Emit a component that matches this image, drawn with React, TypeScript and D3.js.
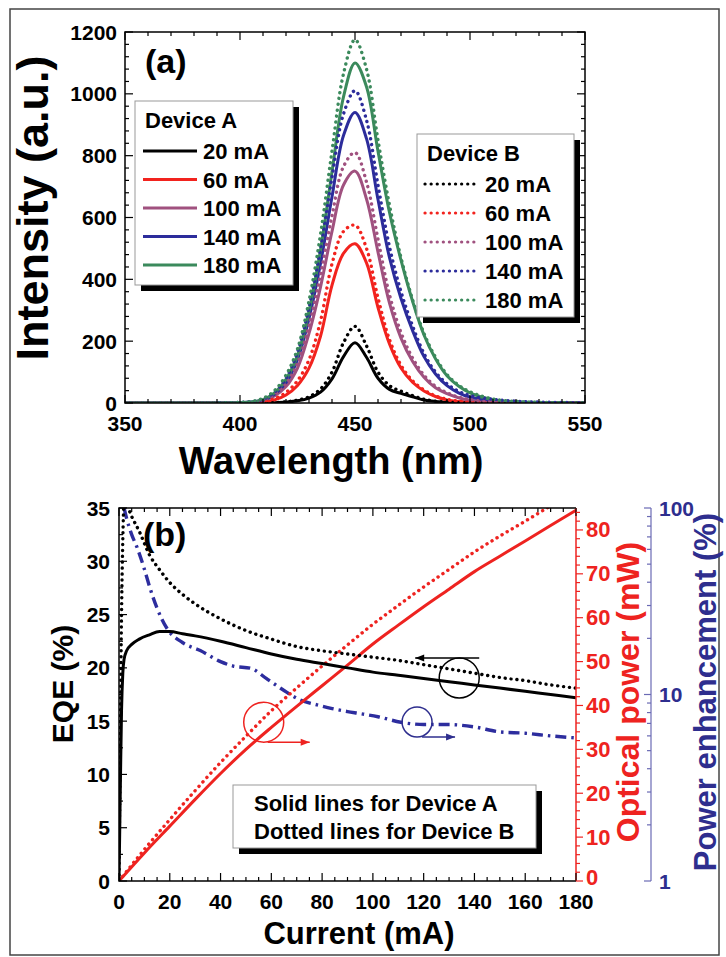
import React, { useEffect, useRef } from 'react';
import * as d3 from 'd3';

// ---- panel (a): emission spectra ----
const WAVELENGTH = [350, 380, 400, 405, 410, 415, 420, 425, 430, 435, 440, 445, 450, 455, 460, 465, 470, 475, 480, 485, 490, 495, 500, 510, 520, 530, 550];

const SPEC_A_20 = [0, 0, 0, 0, 0, 1, 3, 7, 16, 35, 78, 150, 195, 148, 80, 44, 31, 20, 10, 5, 2, 1, 0, 0, 0, 0, 0];
const SPEC_A_60 = [0, 0, 0, 1, 3, 10, 26, 57, 113, 216, 381, 484, 515, 453, 309, 191, 113, 67, 39, 21, 10, 5, 3, 1, 0, 0, 0];
const SPEC_A_100 = [0, 0, 0, 2, 8, 23, 53, 113, 225, 375, 555, 705, 750, 660, 488, 323, 210, 135, 83, 49, 30, 17, 9, 3, 1, 0, 0];
const SPEC_A_140 = [0, 0, 1, 3, 9, 28, 66, 141, 273, 451, 667, 865, 940, 855, 658, 470, 338, 235, 150, 94, 56, 33, 19, 8, 3, 1, 0];
const SPEC_A_180 = [0, 0, 1, 3, 11, 33, 77, 154, 297, 495, 748, 990, 1100, 1023, 814, 616, 462, 330, 220, 143, 88, 55, 33, 11, 4, 2, 0];

const SPEC_B_20 = [0, 0, 0, 0, 0, 1, 4, 9, 20, 45, 100, 195, 248, 185, 100, 56, 38, 24, 12, 6, 3, 1, 0, 0, 0, 0, 0];
const SPEC_B_60 = [0, 0, 0, 2, 5, 14, 34, 72, 140, 265, 450, 555, 575, 500, 340, 205, 122, 72, 42, 23, 12, 6, 3, 1, 0, 0, 0];
const SPEC_B_100 = [0, 0, 0, 3, 10, 28, 62, 128, 250, 415, 605, 765, 810, 715, 530, 350, 228, 146, 90, 54, 33, 19, 11, 4, 2, 0, 0];
const SPEC_B_140 = [0, 0, 2, 4, 12, 35, 80, 165, 310, 500, 730, 935, 1010, 915, 705, 505, 360, 250, 160, 100, 62, 38, 24, 12, 6, 3, 1];
const SPEC_B_180 = [0, 0, 2, 5, 15, 40, 90, 175, 330, 545, 815, 1065, 1175, 1080, 850, 640, 470, 335, 225, 148, 92, 58, 36, 13, 5, 2, 0];

const DRIVE_LABELS = ['20 mA', '60 mA', '100 mA', '140 mA', '180 mA'];
const DRIVE_COLORS = ['#000000', '#f2231e', '#a0517f', '#2c2c9b', '#3b8a5c'];
const SPECTRA_A = [SPEC_A_20, SPEC_A_60, SPEC_A_100, SPEC_A_140, SPEC_A_180];
const SPECTRA_B = [SPEC_B_20, SPEC_B_60, SPEC_B_100, SPEC_B_140, SPEC_B_180];

// ---- panel (b): EQE, optical power, power enhancement vs current ----
const CURRENT_EQE = [0, 0.3, 0.6, 1, 1.5, 2, 3, 5, 8, 12, 16, 20, 25, 30, 40, 50, 60, 70, 80, 90, 100, 110, 120, 130, 140, 150, 160, 170, 180];
const EQE_A = [0, 5, 10, 16, 19.5, 20.8, 21.6, 22.2, 22.7, 23.1, 23.4, 23.4, 23.2, 23.0, 22.5, 21.9, 21.3, 20.8, 20.4, 20.0, 19.6, 19.3, 19.0, 18.7, 18.4, 18.1, 17.8, 17.5, 17.2];
const EQE_B = [0, 8, 16, 25, 32, 35.5, 35.3, 34.2, 32.8, 30.6, 29.2, 28.0, 26.9, 26.0, 24.6, 23.5, 22.7, 22.0, 21.6, 21.3, 21.0, 20.7, 20.3, 19.9, 19.5, 19.1, 18.8, 18.4, 18.1];

const CURRENT_POWER = [0, 10, 20, 30, 40, 50, 60, 70, 80, 90, 100, 110, 120, 130, 140, 150, 160, 170, 180];
const POWER_A = [0, 6.4, 12.5, 18.6, 24.5, 30, 35, 39.8, 44.5, 49.2, 54, 58.3, 62.5, 66.5, 70.5, 74, 77.5, 81, 84.5];
const POWER_B = [0, 7.2, 14, 20.6, 27, 33, 38.8, 44, 49, 53.8, 58.5, 62.8, 67, 71, 75, 78.6, 82, 85.5, 89];

const CURRENT_ENH = [2, 3, 5, 7, 10, 12, 15, 19, 25, 32, 40, 45, 52, 58, 65, 71, 78, 84, 90, 95, 102, 111, 120, 130, 140, 150, 160, 170, 180];
const ENHANCEMENT = [100, 88, 72, 62, 47, 38, 29, 22.5, 19, 17.2, 15, 14.2, 13.8, 12.2, 10.5, 9.4, 8.8, 8.4, 8.1, 7.9, 7.6, 7.1, 6.9, 6.9, 6.7, 6.3, 6.2, 6.0, 5.85];

const FONT = "'Liberation Sans', Arial, Helvetica, sans-serif";
const RED = '#ee2320';
const BLUE = '#2e2e8e';
const BLUE_AXIS = '#6a6ab4';
const DOTS = '0.1 5.8';

type G = d3.Selection<SVGGElement, unknown, null, undefined>;

function tickLines(g: G, pos: number[], fixed: number, len: number, horiz: boolean, color = '#000') {
    pos.forEach((p) => {
        const l = g.append('line').attr('stroke', color).attr('stroke-width', 1.2);
        if (horiz) l.attr('x1', p).attr('x2', p).attr('y1', fixed).attr('y2', fixed + len);
        else l.attr('y1', p).attr('y2', p).attr('x1', fixed).attr('x2', fixed + len);
    });
}

function label(g: G, x: number, y: number, txt: string, size: number, anchor = 'middle', color = '#000') {
    return g
        .append('text')
        .attr('x', x)
        .attr('y', y)
        .attr('text-anchor', anchor)
        .attr('font-family', FONT)
        .attr('font-weight', 'bold')
        .attr('font-size', size)
        .attr('fill', color)
        .text(txt);
}

function arrowHead(g: G, x: number, y: number, dir: number, color: string) {
    g.append('path')
        .attr('d', `M${x},${y} L${x - dir * 9},${y - 3.5} L${x - dir * 9},${y + 3.5} Z`)
        .attr('fill', color);
}

function drawSpectra(root: G) {
    const g = root.append('g');
    const x = d3.scaleLinear().domain([350, 550]).range([125, 585]);
    const y = d3.scaleLinear().domain([0, 1200]).range([403, 32]);
    const [x0, x1] = x.range();
    const [y0, y1] = y.range();

    g.append('clipPath').attr('id', 'clipA').append('rect').attr('x', x0).attr('y', y1).attr('width', x1 - x0).attr('height', y0 - y1);

    const line = d3
        .line<number>()
        .x((d, i) => x(WAVELENGTH[i]))
        .y((d) => y(d))
        .curve(d3.curveCatmullRom.alpha(0.5));

    const curves = g.append('g').attr('clip-path', 'url(#clipA)');
    SPECTRA_A.forEach((s, i) => {
        curves.append('path').attr('d', line(s)).attr('fill', 'none').attr('stroke', DRIVE_COLORS[i]).attr('stroke-width', 3);
    });
    SPECTRA_B.forEach((s, i) => {
        curves
            .append('path')
            .attr('d', line(s))
            .attr('fill', 'none')
            .attr('stroke', DRIVE_COLORS[i])
            .attr('stroke-width', 3.4)
            .attr('stroke-linecap', 'round')
            .attr('stroke-dasharray', DOTS);
    });

    // frame + ticks
    g.append('rect').attr('x', x0).attr('y', y1).attr('width', x1 - x0).attr('height', y0 - y1).attr('fill', 'none').attr('stroke', '#000').attr('stroke-width', 1.5);
    const xMaj = d3.range(350, 551, 50);
    const xMin = d3.range(350, 551, 10).filter((v) => !xMaj.includes(v));
    tickLines(g, xMaj.map(x), y0, -8, true);
    tickLines(g, xMin.map(x), y0, -4, true);
    tickLines(g, xMaj.map(x), y1, 8, true);
    tickLines(g, xMin.map(x), y1, 4, true);
    const yMaj = d3.range(0, 1201, 200);
    const yMin = d3.range(0, 1201, 40).filter((v) => !yMaj.includes(v));
    tickLines(g, yMaj.map(y), x0, 8, false);
    tickLines(g, yMin.map(y), x0, 4, false);
    tickLines(g, yMaj.map(y), x1, -8, false);
    tickLines(g, yMin.map(y), x1, -4, false);

    xMaj.forEach((v) => label(g, x(v), 431, String(v), 21));
    yMaj.forEach((v) => label(g, 117, y(v) + 7.5, String(v), 21, 'end'));

    label(g, 331, 474, 'Wavelength (nm)', 38);
    label(g, 0, 0, 'Intensity (a.u.)', 45).attr('transform', 'translate(48,208) rotate(-90)');
    label(g, 145, 73, '(a)', 34, 'start');

    // legends
    const legend = (lx: number, ly: number, w: number, h: number, title: string, dotted: boolean, step: number) => {
        g.append('rect').attr('x', lx + 6).attr('y', ly + 6).attr('width', w).attr('height', h).attr('fill', '#000');
        g.append('rect').attr('x', lx).attr('y', ly).attr('width', w).attr('height', h).attr('fill', '#fff').attr('stroke', '#999').attr('stroke-width', 1);
        label(g, lx + 10, ly + 27, title, 22, 'start');
        DRIVE_LABELS.forEach((t, i) => {
            const yy = ly + 50 + i * step;
            const l = g
                .append('line')
                .attr('x1', lx + 8)
                .attr('x2', lx + 62)
                .attr('y1', yy)
                .attr('y2', yy)
                .attr('stroke', DRIVE_COLORS[i])
                .attr('stroke-width', 3);
            if (dotted) l.attr('stroke-dasharray', '0.1 6').attr('stroke-linecap', 'round').attr('stroke-width', 3.2);
            label(g, lx + 68, yy + 8, t, 22, 'start');
        });
    };
    legend(135, 101, 158, 184, 'Device A', false, 28.5);
    legend(417, 134, 157, 183, 'Device B', true, 29);
}

function drawCurrent(root: G) {
    const g = root.append('g');
    const x = d3.scaleLinear().domain([0, 180]).range([119, 576]);
    const yE = d3.scaleLinear().domain([0, 35]).range([881, 508]);
    const yP = d3.scaleLinear().domain([0, 85]).range([881, 508]);
    const yL = d3.scaleLog().domain([1, 100]).range([881, 508]);
    const [x0, x1] = x.range();
    const [y0, y1] = yE.range();

    g.append('clipPath').attr('id', 'clipB').append('rect').attr('x', x0).attr('y', y1).attr('width', x1 - x0).attr('height', y0 - y1);
    const curves = g.append('g').attr('clip-path', 'url(#clipB)');

    const mk = (xs: number[], sc: (v: number) => number) =>
        d3
            .line<number>()
            .x((d, i) => x(xs[i]))
            .y((d) => sc(d))
            .curve(d3.curveMonotoneX);

    curves.append('path').attr('d', mk(CURRENT_ENH, yL)(ENHANCEMENT)).attr('fill', 'none').attr('stroke', '#2d2d9e').attr('stroke-width', 3.4).attr('stroke-dasharray', '11 5 2.5 5');
    curves.append('path').attr('d', mk(CURRENT_POWER, yP)(POWER_A)).attr('fill', 'none').attr('stroke', RED).attr('stroke-width', 3);
    curves.append('path').attr('d', mk(CURRENT_POWER, yP)(POWER_B)).attr('fill', 'none').attr('stroke', RED).attr('stroke-width', 3.4).attr('stroke-linecap', 'round').attr('stroke-dasharray', DOTS);
    curves.append('path').attr('d', mk(CURRENT_EQE, yE)(EQE_A)).attr('fill', 'none').attr('stroke', '#000').attr('stroke-width', 3);
    curves.append('path').attr('d', mk(CURRENT_EQE, yE)(EQE_B)).attr('fill', 'none').attr('stroke', '#000').attr('stroke-width', 3.4).attr('stroke-linecap', 'round').attr('stroke-dasharray', DOTS);

    // black frame (top, left, bottom) and red right axis
    g.append('path').attr('d', `M${x1},${y1} H${x0} V${y0} H${x1}`).attr('fill', 'none').attr('stroke', '#000').attr('stroke-width', 1.5);
    g.append('line').attr('x1', x1).attr('x2', x1).attr('y1', y1).attr('y2', y0).attr('stroke', RED).attr('stroke-width', 1.5);

    const xMaj = d3.range(0, 181, 20);
    const xMin = d3.range(0, 181, 5).filter((v) => !xMaj.includes(v));
    tickLines(g, xMaj.map(x), y0, -8, true);
    tickLines(g, xMin.map(x), y0, -4, true);
    tickLines(g, xMaj.map(x), y1, 8, true);
    tickLines(g, xMin.map(x), y1, 4, true);
    const eMaj = d3.range(0, 36, 5);
    const eMin = d3.range(0, 36, 2.5).filter((v) => !eMaj.includes(v));
    tickLines(g, eMaj.map(yE), x0, 8, false);
    tickLines(g, eMin.map(yE), x0, 4, false);

    const pMaj = d3.range(0, 81, 10);
    const pMin = d3.range(0, 85, 2).filter((v) => v % 10 !== 0);
    tickLines(g, pMaj.map(yP), x1, 7, false, RED);
    tickLines(g, pMin.map(yP), x1, 4, false, RED);

    // blue log axis
    const bx = 651;
    g.append('line').attr('x1', bx).attr('x2', bx).attr('y1', y1).attr('y2', y0).attr('stroke', BLUE_AXIS).attr('stroke-width', 1.2);
    const lMaj = [1, 10, 100];
    const lMin = [2, 3, 4, 5, 6, 7, 8, 9, 20, 30, 40, 50, 60, 70, 80, 90];
    tickLines(g, lMaj.map(yL), bx, -7, false, BLUE_AXIS);
    tickLines(g, lMin.map(yL), bx, -4, false, BLUE_AXIS);

    xMaj.forEach((v) => label(g, x(v), 909, String(v), 21));
    eMaj.forEach((v) => label(g, 110, yE(v) + 7.5, String(v), 21, 'end'));
    pMaj.forEach((v) => label(g, 586, Math.min(yP(v) + 7.5, 885), String(v), 22, 'start', RED));
    lMaj.forEach((v) => label(g, 659, yL(v) + 7.5, String(v), 21, 'start', BLUE));

    label(g, 359, 944, 'Current (mA)', 31);
    label(g, 0, 0, 'EQE (%)', 30).attr('transform', 'translate(73,684) rotate(-90)');
    label(g, 0, 0, 'Optical power (mW)', 32, 'middle', RED).attr('transform', 'translate(639,692) rotate(-90)');
    label(g, 0, 0, 'Power enhancement (%)', 31, 'middle', BLUE).attr('transform', 'translate(716,692) rotate(-90)');
    label(g, 143, 546, '(b)', 34, 'start');

    // axis hint circles with arrows
    const hint = (cx: number, cy: number, r: number, color: string, ay: number, ax0: number, ax1: number) => {
        g.append('circle').attr('cx', cx).attr('cy', cy).attr('r', r).attr('fill', 'none').attr('stroke', color).attr('stroke-width', 1.5);
        g.append('line').attr('x1', ax0).attr('x2', ax1).attr('y1', ay).attr('y2', ay).attr('stroke', color).attr('stroke-width', 1.5);
        arrowHead(g, ax1, ay, ax1 > ax0 ? 1 : -1, color);
    };
    const bc = [x(134), yE(19.05)];
    hint(bc[0], bc[1], 20, '#000', bc[1] - 20, bc[0] + 20, bc[0] - 44);
    const rc = [x(57), yP(36.2)];
    hint(rc[0], rc[1], 20, RED, rc[1] + 20, rc[0] + 4, rc[0] + 46);
    const lc = [x(117.4), yL(7.12)];
    hint(lc[0], lc[1], 15, BLUE, lc[1] + 15, lc[0] + 5, lc[0] + 38);

    // note box
    g.append('rect').attr('x', 239).attr('y', 791).attr('width', 303).attr('height', 63).attr('fill', '#000');
    g.append('rect').attr('x', 233).attr('y', 785).attr('width', 303).attr('height', 63).attr('fill', '#fff').attr('stroke', '#999').attr('stroke-width', 1);
    label(g, 254, 811, 'Solid lines for Device A', 22, 'start');
    label(g, 254, 839, 'Dotted lines for Device B', 22, 'start');
}

export default function App() {
    const ref = useRef<SVGSVGElement>(null);
    useEffect(() => {
        const svg = d3.select(ref.current);
        svg.selectAll('*').remove();
        const root = svg.append('g') as unknown as G;
        root.append('rect').attr('x', 10).attr('y', 9).attr('width', 709).attr('height', 946).attr('fill', 'none').attr('stroke', '#444').attr('stroke-width', 1.5);
        drawSpectra(root);
        drawCurrent(root);
    }, []);
    return <svg ref={ref} width={726} height={957} style={{ position: 'absolute', left: 0, top: 0, background: '#fff' }} />;
}
